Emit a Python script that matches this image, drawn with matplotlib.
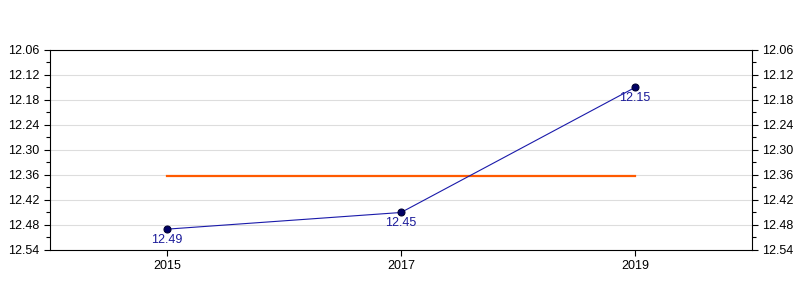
import matplotlib
matplotlib.use("Agg")
import matplotlib.pyplot as plt
import numpy as np
from matplotlib.ticker import MultipleLocator, FormatStrFormatter

plt.rcParams['font.family'] = ['Liberation Sans', 'DejaVu Sans']

years = ['2015', '2017', '2019']
values = [12.49, 12.45, 12.15]
average = [12.363, 12.363, 12.363]
labels = ['12.49', '12.45', '12.15']


def main():
    fig = plt.figure(figsize=(8, 3), dpi=100)
    ax = fig.add_axes([0.0625, 0.1667, 0.8775, 0.6667])
    x = np.arange(len(years))

    ax.plot(x, average, color='#ff5a00', lw=1.6, zorder=2)
    ax.plot(x, values, color='#1a1aaa', lw=0.8, marker='o', ms=5,
            mfc='#000066', mec='#000033', mew=0.8, zorder=3)
    for xi, v, t in zip(x, values, labels):
        ax.annotate(t, (xi, v), xytext=(0, -3.5), textcoords='offset points',
                    ha='center', va='top', color='#1a1a99', fontsize=9)

    ax.set_xlim(-0.5, 2.5)
    ax.set_ylim(12.54, 12.06)
    ax.set_xticks(x)
    ax.set_xticklabels(years)
    ax.yaxis.set_major_locator(MultipleLocator(0.06))
    ax.yaxis.set_minor_locator(MultipleLocator(0.03))
    ax.yaxis.set_major_formatter(FormatStrFormatter('%.2f'))
    ax.grid(axis='y', color='#dddddd', lw=0.8, zorder=0)
    ax.set_axisbelow(True)
    ax.tick_params(axis='both', which='major', direction='out', length=4,
                   width=0.8, labelsize=9, colors='black')
    ax.tick_params(axis='y', which='minor', direction='out', length=3, width=0.8)
    ax.tick_params(axis='y', which='both', left=True, right=True,
                   labelleft=True, labelright=True)
    for s in ax.spines.values():
        s.set_linewidth(0.8)
        s.set_color('black')

    fig.savefig('out.png', dpi=100)


if __name__ == '__main__':
    main()
